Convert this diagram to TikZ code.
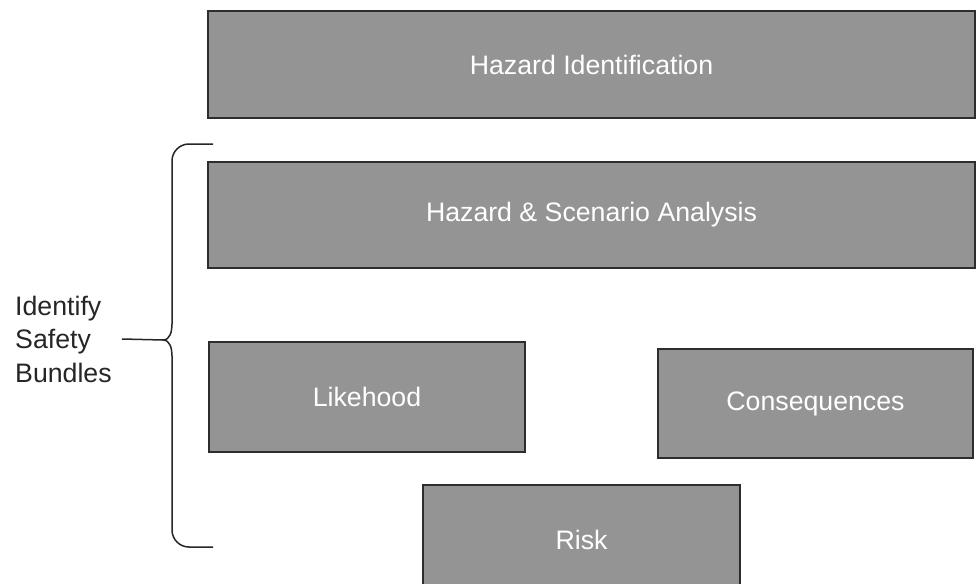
\documentclass[tikz,border=0pt]{standalone}
\usepackage{fontspec}
\setmainfont{Liberation Sans}
\usetikzlibrary{positioning}

\definecolor{boxfill}{RGB}{148,148,148}
\definecolor{boxline}{RGB}{45,45,45}

\begin{document}
\begin{tikzpicture}[
    x=1pt, y=-1pt,
    stagebox/.style={rectangle, draw=boxline, line width=2pt, fill=boxfill, text=white, inner sep=0pt, font=\fontsize{26.7}{32}\selectfont},
    sidelabel/.style={align=left, inner sep=0pt, text=black!85, font=\fontsize{26.7}{33.5}\selectfont},
    bracket/.style={draw=black!85, line width=1.5pt, line join=round}
]

% Page frame
\useasboundingbox (0,0) rectangle (976,583);
\clip (0,0) rectangle (976,583);

% Boxes
\node[stagebox, minimum width=767pt, minimum height=107pt] (hazid) at (591.5,64.5) {Hazard Identification};
\node[stagebox, minimum width=767pt, minimum height=106pt] (scenario) at (591.5,215) {Hazard \& Scenario Analysis};
\node[stagebox, minimum width=316pt, minimum height=110pt] (likely) at (367,397) {Likehood};
\node[stagebox, minimum width=315pt, minimum height=109pt] (conseq) at (815.5,403.5) {Consequences};
\node[stagebox, minimum width=317pt, minimum height=110pt] (risk) at (581.5,540) {Risk};

% Side label
\node[sidelabel, anchor=west] (bundles) at (15,339) {Identify\\Safety\\Bundles};

% Brace
\coordinate (bracetop) at (213,144);
\coordinate (bracetip) at (163,340);
\coordinate (bracebot) at (213,547);
\draw[bracket] (bracetop) -- (189,144) to[out=180,in=90] (172,161) -- (172,324)
    to[out=-90,in=0] (bracetip) to[out=0,in=90] (172,356) -- (172,530)
    to[out=-90,in=180] (189,547) -- (bracebot);
\draw[bracket] ([xshift=10pt]bundles.east) -- (bracetip);

\end{tikzpicture}
\end{document}
